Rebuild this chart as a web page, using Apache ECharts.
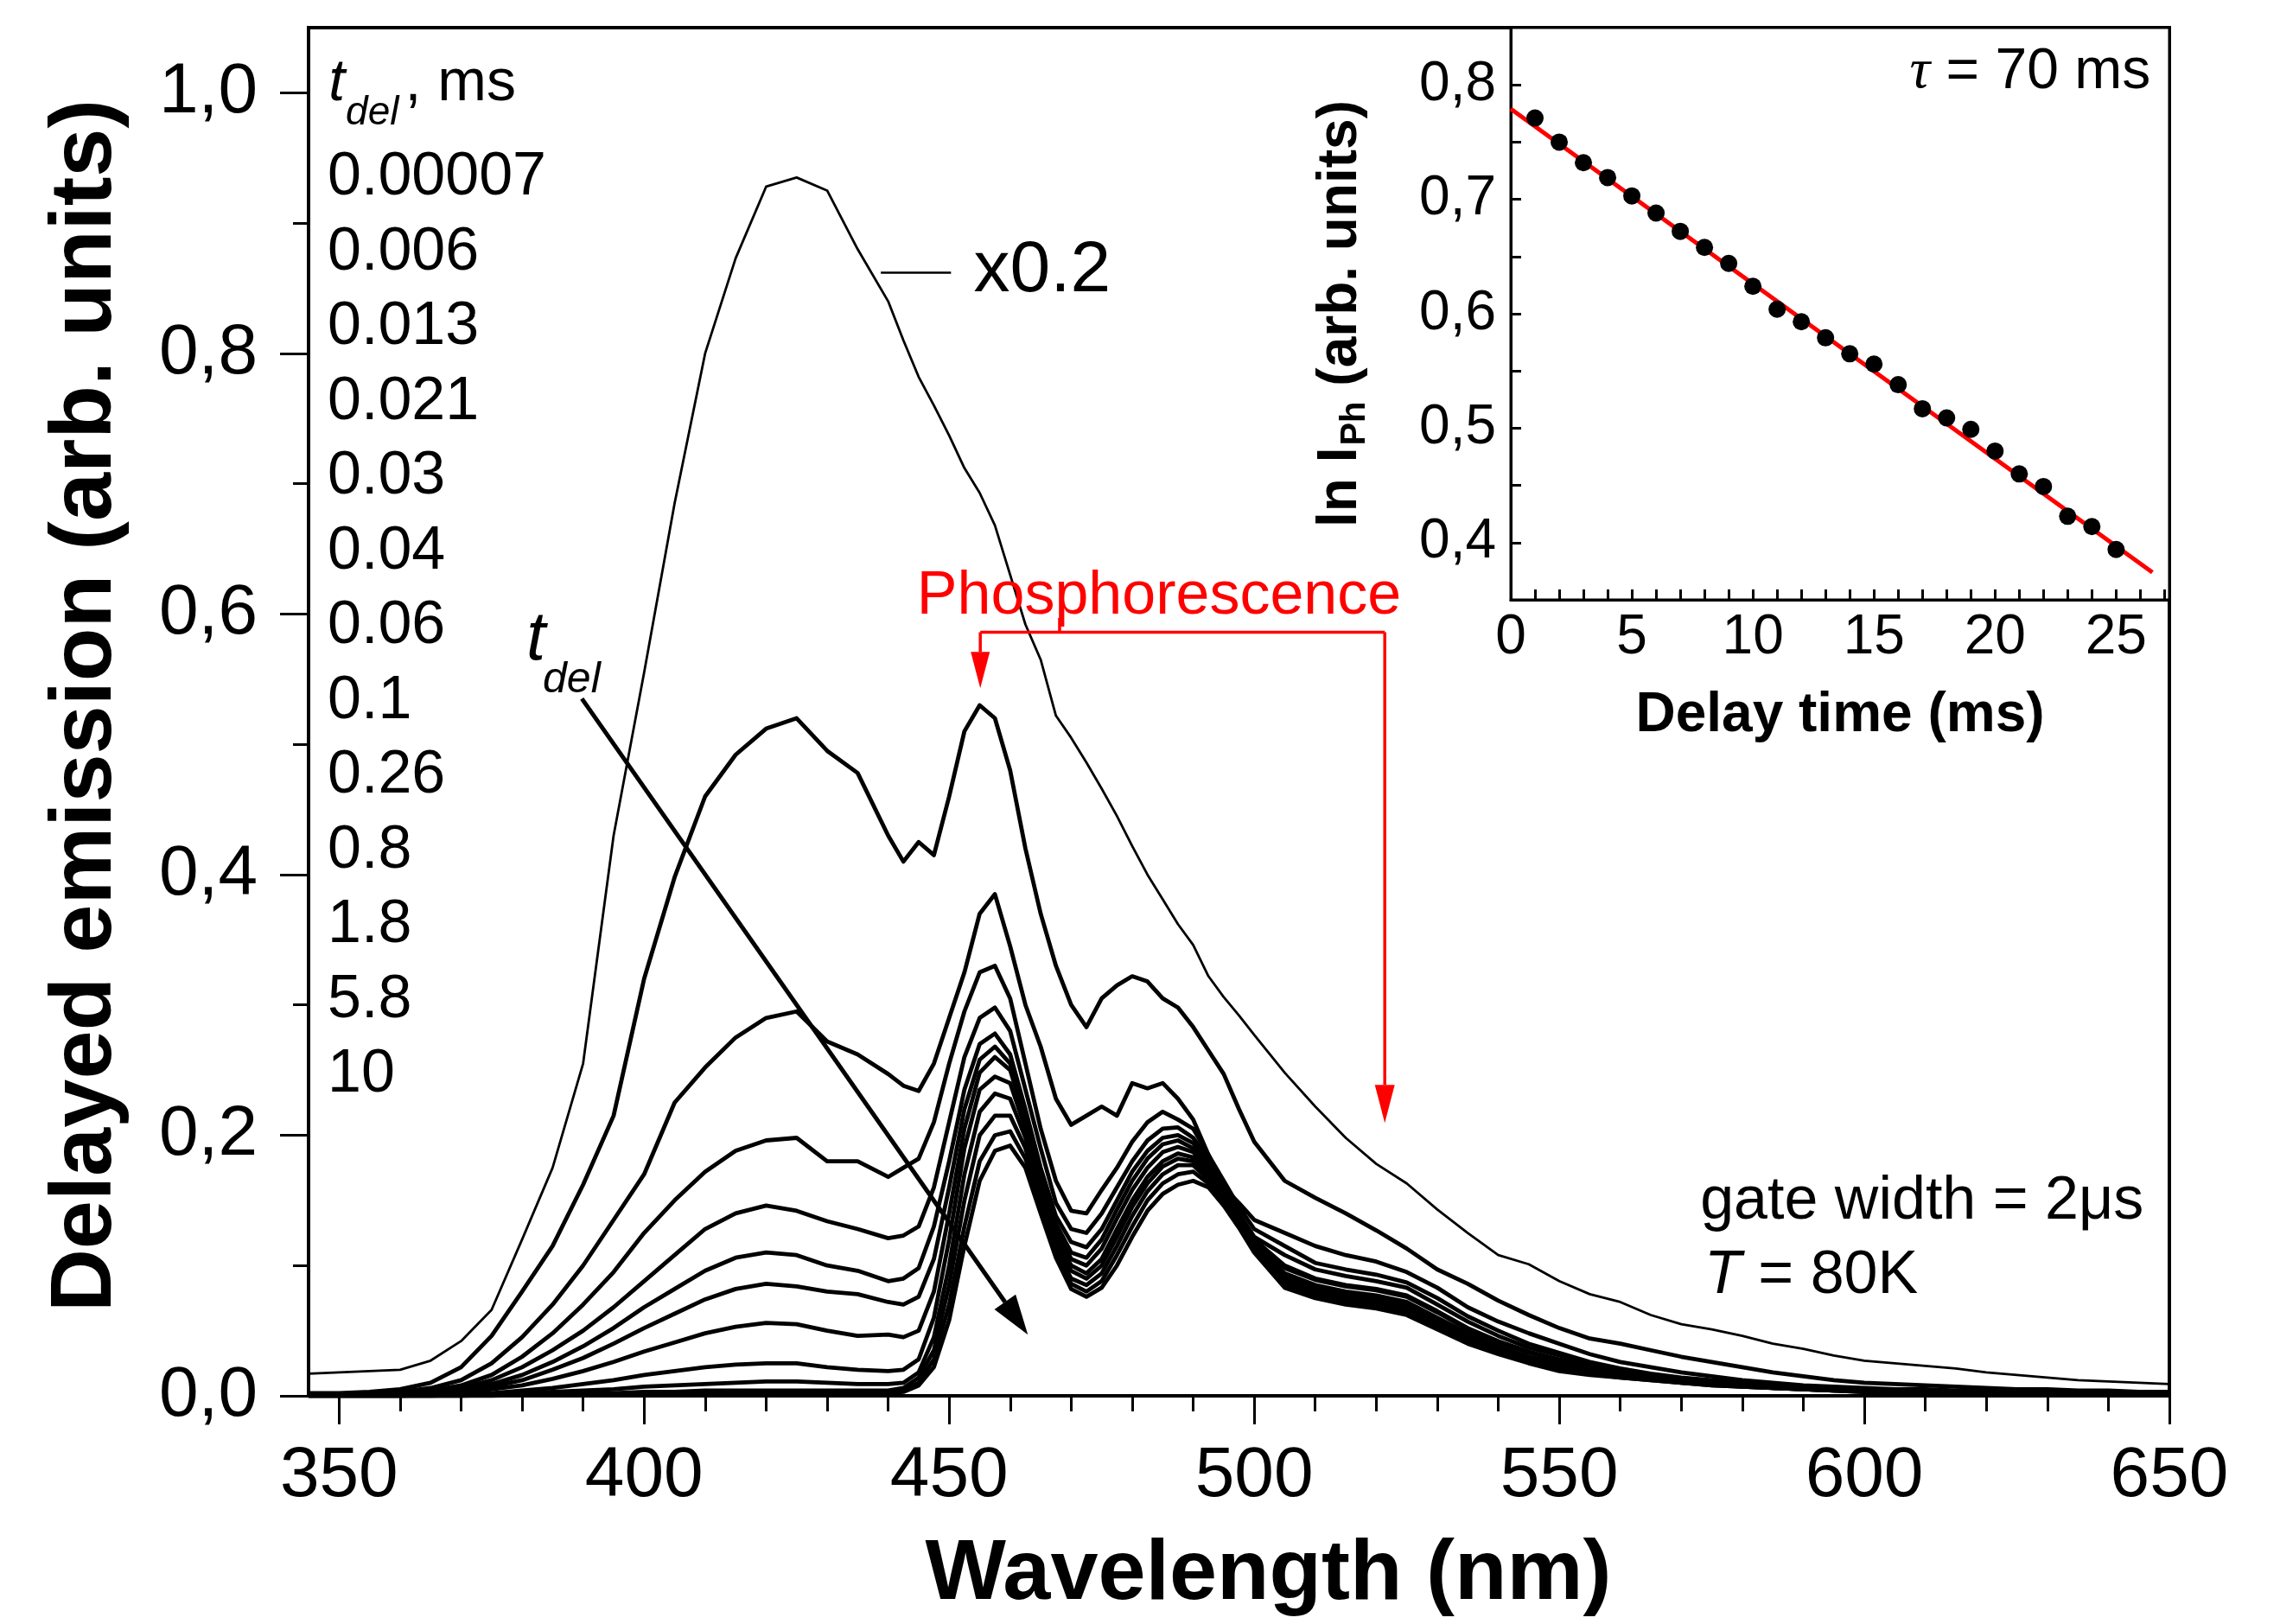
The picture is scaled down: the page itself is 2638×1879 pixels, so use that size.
<!DOCTYPE html>
<html><head><meta charset="utf-8">
<script src="https://cdn.jsdelivr.net/npm/echarts@6/dist/echarts.min.js"></script>
<style>html,body{margin:0;padding:0;background:#fff}#c{width:2638px;height:1879px}</style>
</head><body><div id="c"></div>
<script>
const FONT = '"Liberation Sans", Arial, Helvetica, sans-serif';

// ---------- main panel data ----------
const wavelengths = [345,350,355,360,365,370,375,380,385,390,395,400,405,410,415,420,425,430,435,440,
  442.5,445,447.5,450,452.5,455,457.5,460,462.5,465,467.5,470,472.5,475,477.5,480,482.5,485,487.5,490,492.5,495,497.5,500,
  505,510,515,520,525,530,535,540,545,550,555,560,565,570,575,580,585,590,595,600,605,610,615,620,625,630,635,640,645,650];

const delays = ['0.00007','0.006','0.013','0.021','0.03','0.04','0.06','0.1','0.26','0.8','1.8','5.8','10'];

const spec_00007 = [0.017,0.018,0.019,0.020,0.027,0.042,0.066,0.120,0.175,0.255,0.430,0.555,0.685,0.800,0.873,0.928,0.935,0.925,0.880,0.840,
  0.810,0.782,0.760,0.737,0.712,0.693,0.668,0.630,0.592,0.565,0.522,0.505,0.486,0.466,0.445,0.422,0.400,0.381,0.362,0.346,0.322,0.306,0.292,0.277,
  0.248,0.222,0.198,0.178,0.163,0.143,0.125,0.108,0.101,0.088,0.078,0.072,0.062,0.055,0.051,0.046,0.040,0.036,0.031,0.027,0.025,0.023,0.021,0.018,0.016,0.014,0.012,0.011,0.010,0.009];
const spec_006 = [0.002,0.002,0.003,0.005,0.010,0.022,0.046,0.080,0.115,0.162,0.215,0.320,0.398,0.460,0.492,0.512,0.520,0.495,0.478,0.430,
  0.410,0.425,0.415,0.460,0.510,0.530,0.520,0.480,0.420,0.370,0.330,0.300,0.283,0.305,0.315,0.322,0.318,0.305,0.298,0.283,0.265,0.247,0.220,0.195,
  0.165,0.152,0.140,0.127,0.113,0.097,0.086,0.073,0.062,0.052,0.044,0.040,0.035,0.030,0.026,0.022,0.018,0.015,0.012,0.010,0.009,0.008,0.007,0.006,0.005,0.005,0.004,0.004,0.003,0.003];
const spec_013 = [0.001,0.001,0.002,0.003,0.006,0.012,0.025,0.045,0.070,0.100,0.135,0.170,0.225,0.252,0.275,0.290,0.295,0.272,0.262,0.247,
  0.238,0.234,0.255,0.290,0.325,0.370,0.385,0.345,0.300,0.268,0.228,0.208,0.215,0.222,0.215,0.240,0.236,0.240,0.228,0.212,0.185,0.160,0.148,0.135,
  0.125,0.115,0.108,0.103,0.095,0.083,0.068,0.057,0.048,0.040,0.032,0.026,0.022,0.018,0.015,0.012,0.010,0.008,0.007,0.006,0.005,0.005,0.004,0.004,0.003,0.003,0.003,0.002,0.002,0.002];
const spec_021 = [0.001,0.001,0.001,0.002,0.004,0.008,0.016,0.030,0.048,0.070,0.095,0.125,0.150,0.172,0.188,0.196,0.198,0.180,0.180,0.168,
  0.175,0.182,0.210,0.255,0.295,0.325,0.330,0.305,0.255,0.205,0.165,0.142,0.140,0.158,0.175,0.195,0.210,0.218,0.212,0.205,0.185,0.165,0.145,0.128,
  0.115,0.102,0.097,0.093,0.087,0.075,0.061,0.050,0.040,0.033,0.026,0.021,0.017,0.014,0.012,0.010,0.008,0.007,0.006,0.005,0.004,0.004,0.003,0.003,0.003,0.002,0.002,0.002,0.002,0.002];
const spec_03 = [0.001,0.001,0.001,0.002,0.003,0.006,0.012,0.022,0.035,0.050,0.068,0.088,0.108,0.128,0.140,0.146,0.142,0.134,0.128,0.121,
  0.123,0.130,0.160,0.210,0.260,0.290,0.298,0.280,0.235,0.190,0.148,0.128,0.125,0.140,0.160,0.180,0.196,0.205,0.206,0.198,0.182,0.160,0.140,0.122,
  0.108,0.097,0.092,0.088,0.083,0.070,0.057,0.046,0.037,0.031,0.025,0.020,0.016,0.013,0.011,0.009,0.008,0.007,0.006,0.005,0.004,0.004,0.003,0.003,0.002,0.002,0.002,0.002,0.002,0.002];
const spec_04 = [0.001,0.001,0.001,0.001,0.002,0.004,0.009,0.016,0.026,0.038,0.052,0.068,0.082,0.096,0.106,0.110,0.108,0.100,0.096,0.088,
  0.090,0.098,0.130,0.180,0.235,0.270,0.278,0.262,0.220,0.175,0.138,0.118,0.114,0.128,0.150,0.172,0.188,0.198,0.200,0.194,0.178,0.158,0.138,0.120,
  0.100,0.090,0.085,0.082,0.077,0.065,0.052,0.042,0.034,0.028,0.023,0.019,0.015,0.013,0.011,0.009,0.008,0.007,0.006,0.005,0.004,0.004,0.003,0.003,0.002,0.002,0.002,0.002,0.002,0.002];
const spec_06 = [0.001,0.001,0.001,0.001,0.002,0.003,0.007,0.012,0.020,0.029,0.040,0.052,0.063,0.074,0.082,0.086,0.084,0.080,0.078,0.072,
  0.070,0.076,0.105,0.160,0.220,0.258,0.268,0.255,0.215,0.170,0.132,0.110,0.106,0.120,0.143,0.165,0.182,0.193,0.196,0.190,0.175,0.155,0.135,0.117,
  0.098,0.089,0.084,0.081,0.076,0.064,0.051,0.041,0.033,0.027,0.022,0.018,0.015,0.012,0.010,0.009,0.008,0.006,0.005,0.005,0.004,0.003,0.003,0.003,0.002,0.002,0.002,0.002,0.002,0.001];
const spec_1 = [0.001,0.001,0.001,0.001,0.001,0.002,0.005,0.008,0.013,0.019,0.026,0.034,0.041,0.048,0.053,0.056,0.055,0.050,0.046,0.047,
  0.045,0.050,0.080,0.140,0.205,0.248,0.260,0.250,0.212,0.168,0.128,0.105,0.100,0.113,0.136,0.158,0.175,0.187,0.191,0.187,0.173,0.154,0.134,0.115,
  0.094,0.085,0.080,0.077,0.072,0.060,0.048,0.038,0.030,0.025,0.021,0.017,0.014,0.012,0.010,0.008,0.007,0.006,0.005,0.004,0.004,0.003,0.003,0.002,0.002,0.002,0.002,0.002,0.001,0.001];
const spec_26 = [0.001,0.001,0.001,0.001,0.001,0.001,0.002,0.004,0.006,0.009,0.012,0.016,0.019,0.022,0.024,0.025,0.025,0.022,0.020,0.019,
  0.020,0.028,0.060,0.120,0.190,0.235,0.245,0.240,0.205,0.162,0.122,0.100,0.094,0.105,0.128,0.150,0.168,0.180,0.186,0.183,0.170,0.152,0.132,0.113,
  0.091,0.083,0.078,0.075,0.070,0.058,0.046,0.036,0.029,0.023,0.020,0.017,0.014,0.011,0.009,0.008,0.007,0.006,0.005,0.004,0.003,0.003,0.003,0.002,0.002,0.002,0.002,0.001,0.001,0.001];
const spec_8 = [0,0,0,0,0.001,0.001,0.001,0.002,0.003,0.004,0.005,0.007,0.008,0.009,0.010,0.011,0.011,0.010,0.009,0.009,
  0.010,0.018,0.045,0.100,0.170,0.218,0.232,0.228,0.198,0.156,0.118,0.096,0.090,0.100,0.122,0.145,0.163,0.176,0.182,0.180,0.168,0.150,0.130,0.112,
  0.089,0.081,0.076,0.073,0.068,0.056,0.044,0.035,0.028,0.022,0.019,0.016,0.013,0.011,0.009,0.008,0.006,0.005,0.004,0.004,0.003,0.003,0.002,0.002,0.002,0.002,0.001,0.001,0.001,0.001];
const spec_18 = [0,0,0,0,0,0.001,0.001,0.001,0.001,0.002,0.002,0.003,0.003,0.004,0.004,0.004,0.004,0.004,0.004,0.004,
  0.006,0.014,0.035,0.085,0.150,0.200,0.215,0.215,0.190,0.150,0.113,0.090,0.085,0.094,0.115,0.138,0.157,0.170,0.177,0.177,0.166,0.149,0.130,0.111,
  0.087,0.079,0.074,0.071,0.066,0.054,0.043,0.034,0.027,0.021,0.018,0.015,0.013,0.010,0.009,0.007,0.006,0.005,0.004,0.004,0.003,0.003,0.002,0.002,0.002,0.001,0.001,0.001,0.001,0.001];
const spec_58 = [0,0,0,0,0,0,0.001,0.001,0.001,0.001,0.001,0.002,0.002,0.002,0.003,0.003,0.003,0.003,0.003,0.003,
  0.004,0.010,0.028,0.070,0.130,0.180,0.200,0.203,0.182,0.145,0.110,0.086,0.080,0.088,0.108,0.130,0.150,0.163,0.170,0.172,0.163,0.148,0.130,0.111,
  0.085,0.077,0.072,0.069,0.064,0.053,0.042,0.033,0.026,0.020,0.017,0.014,0.012,0.010,0.008,0.007,0.006,0.005,0.004,0.003,0.003,0.002,0.002,0.002,0.002,0.001,0.001,0.001,0.001,0.001];
const spec_10 = [0,0,0,0,0,0,0,0.001,0.001,0.001,0.001,0.001,0.002,0.002,0.002,0.002,0.002,0.002,0.002,0.002,
  0.003,0.008,0.022,0.058,0.115,0.165,0.188,0.192,0.175,0.140,0.106,0.082,0.076,0.083,0.100,0.122,0.142,0.155,0.162,0.165,0.160,0.146,0.129,0.110,
  0.083,0.075,0.070,0.067,0.062,0.051,0.040,0.032,0.025,0.019,0.016,0.014,0.012,0.010,0.008,0.007,0.006,0.005,0.004,0.003,0.003,0.002,0.002,0.002,0.001,0.001,0.001,0.001,0.001,0.001];

const spectra = [spec_00007, spec_006, spec_013, spec_021, spec_03, spec_04, spec_06, spec_1, spec_26, spec_8, spec_18, spec_58, spec_10];

const xMajorTicks = [350,400,450,500,550,600,650];
const xMinorTicks = [360,370,380,390,410,420,430,440,460,470,480,490,510,520,530,540,560,570,580,590,610,620,630,640];
const yMajorTicks = [0,0.2,0.4,0.6,0.8,1.0];
const yMinorTicks = [0.1,0.3,0.5,0.7,0.9];

// ---------- inset data ----------
const insetDelay = [1,2,3,4,5,6,7,8,9,10,11,12,13,14,15,16,17,18,19,20,21,22,23,24,25];
const insetLnI = [0.771,0.750,0.732,0.719,0.703,0.688,0.672,0.658,0.644,0.624,0.604,0.593,0.579,0.565,0.556,0.538,0.517,0.509,0.499,0.480,0.460,0.449,0.423,0.414,0.394];
const fitDelay = [0, 26.5];
const fitLnI = [0.779, 0.374];
const insetXLabels = [0,5,10,15,20,25];
const insetXTicks = [1,2,3,4,5,6,7,8,9,10,11,12,13,14,15,16,17,18,19,20,21,22,23,24,25,26,27];
const insetYLabels = [0.4,0.5,0.6,0.7,0.8];
const insetYTicks = [0.4,0.45,0.5,0.55,0.6,0.65,0.7,0.75,0.8];

const comma = v => (Math.round(v*10)/10).toFixed(1).replace('.', ',');

const chart = echarts.init(document.getElementById('c'), null, {renderer: 'canvas'});

const series = spectra.map((s, i) => ({
  name: delays[i], type: 'line', xAxisIndex: 0, yAxisIndex: 0,
  data: wavelengths.map((w, k) => [w, s[k]]),
  symbol: 'none', showSymbol: false, silent: true,
  lineStyle: {color: '#000', width: i === 0 ? 2.8 : 4.8, join: 'round'},
  itemStyle: {color: '#000'}
}));
series.push({
  name: 'fit', type: 'line', xAxisIndex: 2, yAxisIndex: 2,
  data: fitDelay.map((x, k) => [x, fitLnI[k]]),
  symbol: 'none', silent: true, lineStyle: {color: '#ff0000', width: 5}, z: 3
});
series.push({
  name: 'points', type: 'scatter', xAxisIndex: 2, yAxisIndex: 2,
  data: insetDelay.map((x, k) => [x, insetLnI[k]]),
  symbol: 'circle', symbolSize: 20, itemStyle: {color: '#000', opacity: 1}, silent: true, z: 4
});

const tickLine = {color: '#000', width: 3};
const option = {
  animation: false,
  backgroundColor: '#fff',
  textStyle: {fontFamily: FONT, color: '#000'},
  grid: [
    {left: 357, top: 32, right: 128, bottom: 264, show: true, borderColor: '#000', borderWidth: 4, backgroundColor: 'transparent'},
    {left: 1748, top: 32, right: 128, bottom: 1185, show: true, borderColor: '#000', borderWidth: 3, backgroundColor: '#fff'}
  ],
  legend: {
    data: delays, orient: 'vertical', left: 369, top: 166, icon: 'none',
    itemWidth: 0, itemHeight: 10, itemGap: 16.5, selectedMode: false,
    itemStyle: {opacity: 0}, lineStyle: {opacity: 0},
    textStyle: {fontSize: 70, lineHeight: 70, color: '#000', fontFamily: FONT}
  },
  xAxis: [
    {type: 'value', gridIndex: 0, min: 345, max: 650, position: 'bottom',
     axisLine: {show: true, onZero: false, lineStyle: {color: '#000', width: 4}},
     axisTick: {show: true, length: 33, lineStyle: tickLine, customValues: xMajorTicks},
     axisLabel: {show: true, customValues: xMajorTicks, fontSize: 82, margin: 52, color: '#000', fontFamily: FONT},
     splitLine: {show: false},
     name: 'Wavelength (nm)', nameLocation: 'middle', nameGap: 158,
     nameTextStyle: {fontSize: 99, fontWeight: 'bold', color: '#000', fontFamily: FONT, padding: [0, 0, 0, 68]}},
    {type: 'value', gridIndex: 0, min: 345, max: 650, position: 'bottom',
     axisLine: {show: false, onZero: false},
     axisTick: {show: true, length: 18, lineStyle: tickLine, customValues: xMinorTicks},
     axisLabel: {show: false}, splitLine: {show: false}},
    {type: 'value', gridIndex: 1, min: 0, max: 27.2, position: 'bottom',
     axisLine: {show: true, onZero: false, lineStyle: {color: '#000', width: 3}},
     axisTick: {show: true, inside: true, length: 12, lineStyle: tickLine, customValues: insetXTicks},
     axisLabel: {show: true, customValues: insetXLabels, fontSize: 64, margin: 12, color: '#000', fontFamily: FONT},
     splitLine: {show: false},
     name: 'Delay time (ms)', nameLocation: 'middle', nameGap: 102,
     nameTextStyle: {fontSize: 64, fontWeight: 'bold', color: '#000', fontFamily: FONT}}
  ],
  yAxis: [
    {type: 'value', gridIndex: 0, min: 0, max: 1.05, position: 'left',
     axisLine: {show: true, onZero: false, lineStyle: {color: '#000', width: 4}},
     axisTick: {show: true, length: 33, lineStyle: tickLine, customValues: yMajorTicks},
     axisLabel: {show: true, customValues: yMajorTicks, formatter: comma, fontSize: 82, margin: 59, color: '#000', fontFamily: FONT},
     splitLine: {show: false},
     name: 'Delayed emission (arb. units)', nameLocation: 'middle', nameGap: 206, nameRotate: 90,
     nameTextStyle: {fontSize: 101, fontWeight: 'bold', color: '#000', fontFamily: FONT, padding: [0, 0, 0, 14]}},
    {type: 'value', gridIndex: 0, min: 0, max: 1.05, position: 'left',
     axisLine: {show: false, onZero: false},
     axisTick: {show: true, length: 18, lineStyle: tickLine, customValues: yMinorTicks},
     axisLabel: {show: false}, splitLine: {show: false}},
    {type: 'value', gridIndex: 1, min: 0.35, max: 0.85, position: 'left',
     axisLine: {show: true, onZero: false, lineStyle: {color: '#000', width: 3}},
     axisTick: {show: true, inside: true, length: 12, lineStyle: tickLine, customValues: insetYTicks},
     axisLabel: {show: true, customValues: insetYLabels, formatter: comma, fontSize: 64, margin: 17, color: '#000', fontFamily: FONT},
     splitLine: {show: false},
     name: '{b|ln I}{s|Ph}{b| (arb. units)}', nameLocation: 'middle', nameGap: 160, nameRotate: 90,
     nameTextStyle: {color: '#000', fontFamily: FONT,
       rich: {b: {fontSize: 64, fontWeight: 'bold', fontFamily: FONT, color: '#000'},
              s: {fontSize: 40, fontWeight: 'bold', fontFamily: FONT, color: '#000', padding: [34, 0, 0, 2]}}}}
  ],
  series: series
};
chart.setOption(option);

// ---------- annotations (anchored in data coordinates) ----------
const annot = {
  x02Leader: [[438.8, 0.862], [450.3, 0.862]],
  x02Text: [454.0, 0.863],
  tArrow: [[389.8, 0.535], [462.9, 0.047]],
  tLabel: [380.7, 0.58],
  tSub: [383.4, 0.549],
  header: [348.3, 1.0066],
  headerSub: [351.1, 0.984],
  headerTail: [360.8, 1.0066],
  phosText: [484.4, 0.613],
  bracketY: 0.586, stubTop: 0.597, stubX: 468.1,
  leftArrowX: 455.1, leftArrowTip: 0.543,
  rightArrowX: 521.4, rightArrowTip: 0.2095,
  gate: [573.1, 0.1485],
  temp: [573.8, 0.092],
  tau: [26.42, 0.8107]
};
const P = (x, y) => chart.convertToPixel({xAxisIndex: 0, yAxisIndex: 0}, [x, y]);
const PI = (x, y) => chart.convertToPixel({xAxisIndex: 2, yAxisIndex: 2}, [x, y]);
function head(p0, p1, L, W) {
  const dx = p1[0]-p0[0], dy = p1[1]-p0[1], len = Math.hypot(dx, dy);
  const ux = dx/len, uy = dy/len;
  const bx = p1[0]-ux*L, by = p1[1]-uy*L;
  return {base: [bx, by], pts: [[p1[0], p1[1]], [bx - uy*W/2, by + ux*W/2], [bx + uy*W/2, by - ux*W/2]]};
}
const g = [];
function line(a, b, color, w) { g.push({type: 'line', shape: {x1: a[0], y1: a[1], x2: b[0], y2: b[1]}, style: {stroke: color, lineWidth: w}, z: 50}); }
function text(p, str, size, opts) {
  g.push({type: 'text', x: p[0], y: p[1], z: 50, style: Object.assign({text: str, fontSize: size, fontFamily: FONT, fill: '#000', align: 'left', verticalAlign: 'middle'}, opts || {})});
}
function arrow(a, b, color, w, L, W) {
  const h = head(a, b, L, W);
  line(a, h.base, color, w);
  g.push({type: 'polygon', shape: {points: h.pts}, style: {fill: color}, z: 50});
}
// x0.2
line(P(...annot.x02Leader[0]), P(...annot.x02Leader[1]), '#000', 2.5);
text(P(...annot.x02Text), 'x0.2', 84);
// t_del arrow
arrow(P(...annot.tArrow[0]), P(...annot.tArrow[1]), '#000', 5, 46, 30);
text(P(...annot.tLabel), 't', 80, {fontStyle: 'italic'});
text(P(...annot.tSub), 'del', 50, {fontStyle: 'italic'});
// legend header
text(P(...annot.header), 't', 68, {fontStyle: 'italic'});
text(P(...annot.headerSub), 'del', 46, {fontStyle: 'italic'});
text(P(...annot.headerTail), ', ms', 68);
// phosphorescence bracket
const RED = '#ff0000';
text(P(...annot.phosText), 'Phosphorescence', 70, {fill: RED, align: 'center'});
const bl = P(annot.leftArrowX, annot.bracketY), br = P(annot.rightArrowX, annot.bracketY);
line(bl, br, RED, 3.5);
line(P(annot.stubX, annot.stubTop), P(annot.stubX, annot.bracketY), RED, 3.5);
arrow(bl, P(annot.leftArrowX, annot.leftArrowTip), RED, 3.5, 42, 22);
arrow(br, P(annot.rightArrowX, annot.rightArrowTip), RED, 3.5, 44, 23);
// conditions
text(P(...annot.gate), 'gate width = 2\u03bcs', 70);
g.push({type: 'text', x: P(...annot.temp)[0], y: P(...annot.temp)[1], z: 50,
  style: {text: '{i|T} = 80K', fontSize: 70, fontFamily: FONT, fill: '#000', verticalAlign: 'middle',
    rich: {i: {fontStyle: 'italic', fontSize: 70, fontFamily: FONT}}}});
// tau
const tp = PI(...annot.tau);
g.push({type: 'text', x: tp[0], y: tp[1], z: 50,
  style: {text: '{i|\u03c4} = 70 ms', fontSize: 66, fontFamily: FONT, fill: '#000', align: 'right', verticalAlign: 'middle',
    rich: {i: {fontStyle: 'italic', fontSize: 66, fontFamily: '"Liberation Serif", "DejaVu Serif", serif'}}}});

chart.setOption({graphic: g});
</script>
</body></html>
